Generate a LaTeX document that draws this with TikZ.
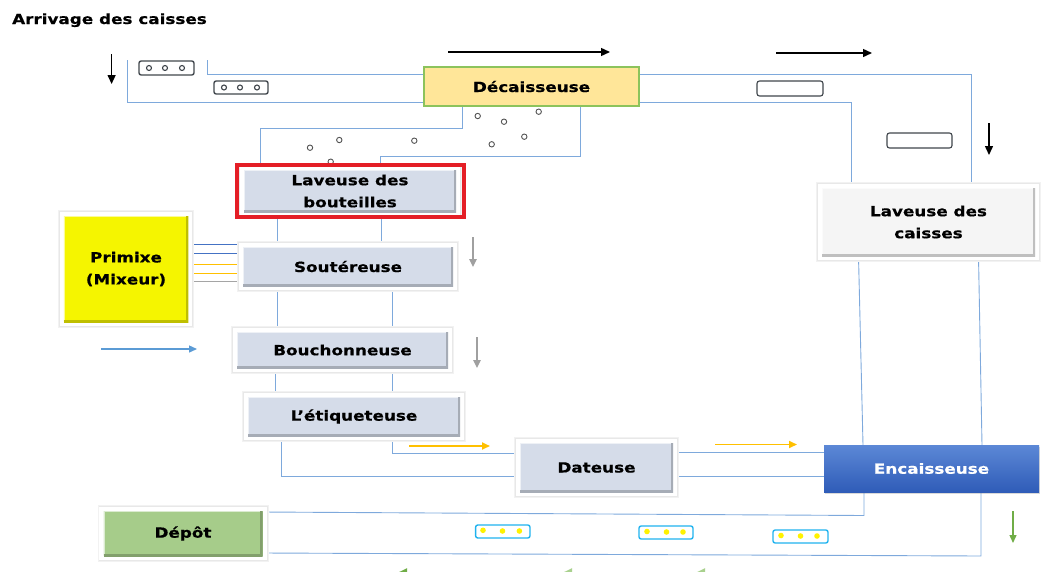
\documentclass[tikz,border=0pt]{standalone}
\usepackage{fontspec}
\setmainfont{DejaVu Sans}[FakeStretch=1.2, BoldFeatures={FakeBold=0.5}]
\usetikzlibrary{arrows.meta,shadows,backgrounds}
\definecolor{lav}{HTML}{D5DCE9}
\definecolor{lcfill}{HTML}{F5F5F5}
\definecolor{primfill}{HTML}{F5F500}
\definecolor{depfill}{HTML}{A6CC8A}
\definecolor{decfill}{HTML}{FFE699}
\definecolor{decedge}{HTML}{8CC35C}
\definecolor{enctop}{HTML}{5C88D6}
\definecolor{encbot}{HTML}{2F5CB8}
\definecolor{conv}{HTML}{7EA9DC}
\definecolor{pblue}{HTML}{4472C4}
\definecolor{porange}{HTML}{FFC000}
\definecolor{pgray}{HTML}{A5A5A5}
\definecolor{redframe}{HTML}{E41E26}
\definecolor{icon}{HTML}{40464C}
\definecolor{cyanbox}{HTML}{1FB2EE}
\definecolor{dotyellow}{HTML}{FFF200}
\definecolor{garrow}{HTML}{70AD47}
\definecolor{garrowlight}{HTML}{A9D18E}
\definecolor{barrow}{HTML}{5B9BD5}
\definecolor{grayarrow}{HTML}{A0A0A0}
\tikzset{
  lbl/.style={font=\bfseries\fontsize{14}{22}\selectfont, text=black, align=center, inner sep=0pt},
  bevel/.style={path picture={
      \draw[line width=2.4pt, white!60!#1] (path picture bounding box.south west) -- (path picture bounding box.north west) -- (path picture bounding box.north east);
      \draw[line width=5pt, black!22!#1] (path picture bounding box.south west) -- (path picture bounding box.south east) -- (path picture bounding box.north east);}},
  halo/.style={preaction={draw=black!5, line width=12pt}, preaction={draw=black!9, line width=10pt}, preaction={draw=white, line width=8.4pt}},
  machine/.style={lbl, rectangle, fill=#1, halo, bevel=#1},
  conv/.style={draw=conv, line width=0.9pt},
  blk/.style={draw=black, line width=1.4pt, -{Triangle[length=9pt,width=8pt]}},
  grayarr/.style={draw=grayarrow, line width=1.4pt, -{Triangle[length=8pt,width=7.5pt]}},
  colarr/.style={draw=#1, line width=1.7pt, -{Triangle[length=8pt,width=7pt]}},
  greenarr/.style={draw=#1, line width=2.2pt, -{Triangle[length=10pt,width=9pt]}},
  iconbox/.style={draw=icon, line width=1.4pt, rounded corners=2.2pt},
  emptybox/.style={draw=icon, line width=1.1pt, rounded corners=2.5pt, fill=white},
  cyanboxst/.style={draw=cyanbox, line width=1.4pt, rounded corners=2.2pt},
  bottle/.style={draw=black!68, line width=0.9pt},
}
\begin{document}
\begin{tikzpicture}[x=1pt,y=-1pt]
\useasboundingbox (0,0) rectangle (1061,571);
% ---------------- nodes
\node[lbl, anchor=base west] (title) at (12,24) {Arrivage des caisses};
\node[lbl, rectangle, fill=decfill, draw=decedge, line width=1.3pt, minimum width=215pt, minimum height=39pt] (dec) at (531.5,86.5) {Décaisseuse};
\node[machine=lav, minimum width=212pt, minimum height=42pt] (lb) at (350,191) {Laveuse des\\bouteilles};
\node[machine=lav, minimum width=210pt, minimum height=39pt] (sout) at (348,266.5) {Soutéreuse};
\node[machine=lav, minimum width=211pt, minimum height=36pt] (bouch) at (342.5,350) {Bouchonneuse};
\node[machine=lav, minimum width=212pt, minimum height=39pt] (etiq) at (354,416.5) {L’étiqueteuse};
\node[machine=lav, minimum width=153pt, minimum height=49pt] (dat) at (596.5,467.5) {Dateuse};
\node[machine=lcfill, minimum width=213pt, minimum height=68pt] (lc) at (928.5,222) {Laveuse des\\caisses};
\node[machine=primfill, minimum width=124.5pt, minimum height=106pt] (prim) at (126,269) {Primixe\\(Mixeur)};
\node[machine=depfill, minimum width=159pt, minimum height=45pt] (dep) at (183,533.5) {Dépôt};
\node[lbl, rectangle, text=white, top color=enctop, bottom color=encbot, minimum width=215pt, minimum height=47pt,
      drop shadow={opacity=0.3, shadow xshift=1pt, shadow yshift=-1.5pt}] (enc) at (931.5,468.5) {Encaisseuse};
\draw[redframe, line width=4pt] ([xshift=-7pt,yshift=5pt]lb.north west) rectangle ([xshift=8pt,yshift=-5pt]lb.south east);
% ---------------- free ends
\coordinate (c1) at (127,60);
\coordinate (c2) at (207,60);
\begin{scope}[on background layer]
% conveyors
\draw[conv] (c1) |- (dec.west |- 0,102);
\draw[conv] (c2) |- (dec.west |- 0,74);
\draw[conv] (dec.east |- 0,74) -| (lc.north -| 971,0);
\draw[conv] (dec.east |- 0,102) -| (lc.north -| 851,0);
\draw[conv] (dec.south -| 462,0) |- (260,128) -- (lb.north -| 260,0);
\draw[conv] (dec.south -| 580,0) |- (380,156) -- (lb.north -| 380,0);
\draw[conv] (lb.south -| 277,0) -- (sout.north -| 277,0);
\draw[conv] (lb.south -| 381,0) -- (sout.north -| 381,0);
\draw[conv] (sout.south -| 277,0) -- (bouch.north -| 277,0);
\draw[conv] (sout.south -| 392,0) -- (bouch.north -| 392,0);
\draw[conv] (bouch.south -| 275.5,0) -- (etiq.north -| 275.5,0);
\draw[conv] (bouch.south -| 392,0) -- (etiq.north -| 392,0);
\draw[conv] (etiq.south -| 281,0) |- (dat.west |- 0,476);
\draw[conv] (etiq.south -| 392,0) |- (dat.west |- 0,453);
\draw[conv] (dat.east |- 0,452) -- (enc.west |- 0,452);
\draw[conv] (dat.east |- 0,476) -- (enc.west |- 0,476);
\draw[conv] (lc.south -| 858.5,0) -- (enc.north -| 863,0);
\draw[conv] (lc.south -| 978.5,0) -- (enc.north -| 982,0);
\draw[conv] (enc.south -| 864,0) -- (864,515.5) -- (dep.east |- 0,512);
\draw[conv] (enc.south -| 981,0) -- (981,556) -- (dep.east |- 0,553);
% mixer feeds
\foreach \yy/\cc in {244.3/pblue,253.3/pblue,264.3/porange,273.3/porange,281.7/pgray}
  \draw[draw=\cc, line width=1.2pt] (prim.east |- 0,\yy) -- (sout.west |- 0,\yy);
% bottles
\foreach \bx/\by in {477.7/116, 504/121.7, 538.7/111.7, 524.3/136.7, 491.7/144.3, 414.3/140.7, 339.3/140, 310/147.7, 330.7/161.7}
  \draw[bottle] (\bx,\by) circle[radius=2.7pt];
\end{scope}
% ---------------- crate icons
\draw[iconbox] (139,61) rectangle (194,75);
\foreach \ix in {149,165,182} \draw[icon, line width=1.1pt] (\ix,68) circle[radius=2.5pt];
\draw[iconbox] (214,81) rectangle (268,94);
\foreach \ix in {224,240,257} \draw[icon, line width=1.1pt] (\ix,87.5) circle[radius=2.5pt];
\draw[emptybox] (757,81) rectangle (823,96);
\draw[emptybox] (887,133) rectangle (952,148);
\draw[cyanboxst] (475.6,525) rectangle (530,538);
\foreach \ix/\iy in {483/530.3,502.5/531,519.4/531} \fill[dotyellow] (\ix,\iy) circle[radius=2.8pt];
\draw[cyanboxst] (639,526) rectangle (693,539);
\foreach \ix/\iy in {647/531.5,666.5/532,683/532} \fill[dotyellow] (\ix,\iy) circle[radius=2.8pt];
\draw[cyanboxst] (773,530) rectangle (828,543);
\foreach \ix/\iy in {781/535.5,800.5/536,817/536} \fill[dotyellow] (\ix,\iy) circle[radius=2.8pt];
% ---------------- arrows
\coordinate (b1s) at (111.6,54);  \coordinate (b1e) at (111.6,84);
\coordinate (b2s) at (448,52);    \coordinate (b2e) at (610,52);
\coordinate (b3s) at (776,53);    \coordinate (b3e) at (872,53);
\coordinate (b4s) at (989,123);   \coordinate (b4e) at (989,155);
\draw[blk] (b1s) -- (b1e);
\draw[blk] (b2s) -- (b2e);
\draw[blk] (b3s) -- (b3e);
\draw[blk] (b4s) -- (b4e);
\coordinate (g1s) at (473,237);   \coordinate (g1e) at (473,267);
\coordinate (g2s) at (477,337);   \coordinate (g2e) at (477,368);
\draw[grayarr] (g1s) -- (g1e);
\draw[grayarr] (g2s) -- (g2e);
\coordinate (bls) at (101,349);   \coordinate (ble) at (197,349);
\draw[colarr=barrow, line width=1.4pt] (bls) -- (ble);
\coordinate (o1s) at (409,446);   \coordinate (o1e) at (490,446);
\coordinate (o2s) at (715,444.5); \coordinate (o2e) at (797,444.5);
\draw[colarr=porange] (o1s) -- (o1e);
\draw[colarr=porange] (o2s) -- (o2e);
\coordinate (gds) at (1013,511);  \coordinate (gde) at (1013,543);
\draw[colarr=garrow, line width=1.4pt] (gds) -- (gde);
\begin{scope}
\clip (0,0) rectangle (1061,571);
\coordinate (l1s) at (463,573);   \coordinate (l1e) at (397,573);
\coordinate (l2s) at (628,573);   \coordinate (l2e) at (562,573);
\coordinate (l3s) at (763,573);   \coordinate (l3e) at (695,573);
\draw[greenarr=garrow] (l1s) -- (l1e);
\draw[greenarr=garrowlight] (l2s) -- (l2e);
\draw[greenarr=garrowlight] (l3s) -- (l3e);
\end{scope}
\end{tikzpicture}
\end{document}
